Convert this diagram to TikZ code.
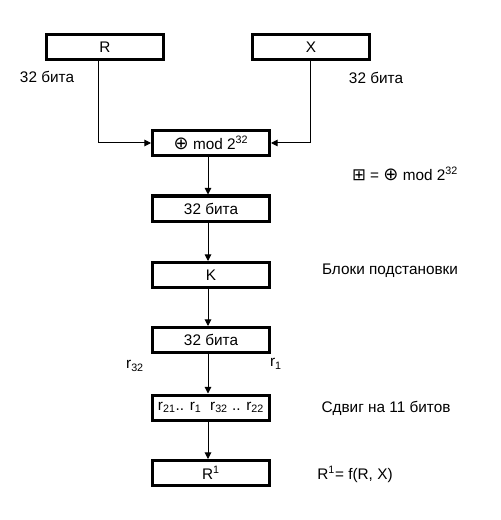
\documentclass[tikz,border=0pt]{standalone}
\usepackage{fontspec}
\setmainfont{Liberation Sans}
\newfontfamily\symf{DejaVu Sans}
\newcommand{\cplus}{{\symf\fontsize{13.5}{13}\selectfont ⊕}}
\newcommand{\bplus}{{\symf\fontsize{12.5}{13}\selectfont ⊞}}
\usetikzlibrary{arrows.meta}
\begin{document}
\begin{tikzpicture}[x=0.75pt,y=-0.75pt,
  blk/.style={draw, line width=2.25pt, minimum width=87.75pt, minimum height=18.75pt, inner sep=0pt, font=\fontsize{11.5}{13}\selectfont},
  lbl/.style={inner sep=0pt, font=\fontsize{11.5}{13}\selectfont},
  arr/.style={line width=0.75pt, -{Triangle[length=5pt,width=5pt]}}]
\useasboundingbox (0,0) rectangle (500,520);
\node[blk] (R) at (105,47) {R};
\node[blk] (X) at (311,47) {X};
\node[blk] (mod) at (211,143) {\cplus\ mod 2\textsuperscript{32}};
\node[blk] (b1) at (211,208.5) {32 бита};
\node[blk] (K) at (211,275) {K};
\node[blk] (b2) at (211,340) {32 бита};
\node[blk] (sh) at (211,407.5) {r\textsubscript{21}.. r\textsubscript{1}\ \ r\textsubscript{32} .. r\textsubscript{22}};
\node[blk] (R1) at (211,473) {R\textsuperscript{1}};

\node[lbl] (l1) at (47,77) {32 бита};
\node[lbl] (l2) at (376,78) {32 бита};
\node[lbl] (l3) at (405,174) {\bplus\ = \cplus\ mod 2\textsuperscript{32}};
\node[lbl] (l4) at (390,271) {Блоки подстановки};
\node[lbl] (l5) at (135,366) {r\textsubscript{32}};
\node[lbl] (l6) at (276,364) {r\textsubscript{1}};
\node[lbl] (l7) at (386,408) {Сдвиг на 11 битов};
\node[lbl] (l8) at (355,474) {R\textsuperscript{1}= f(R, X)};

\coordinate (rc) at (98,143);
\coordinate (xc) at (310,143);
\coordinate (cx) at (208,0);
\draw[arr] (R.south -| rc) -- (rc) -- (mod.west);
\draw[arr] (X.south -| xc) -- (xc) -- (mod.east);
\draw[arr] (mod.south -| cx) -- (b1.north -| cx);
\draw[arr] (b1.south -| cx) -- (K.north -| cx);
\draw[arr] (K.south -| cx) -- (b2.north -| cx);
\draw[arr] (b2.south -| cx) -- (sh.north -| cx);
\draw[arr] (sh.south -| cx) -- (R1.north -| cx);
\end{tikzpicture}
\end{document}
